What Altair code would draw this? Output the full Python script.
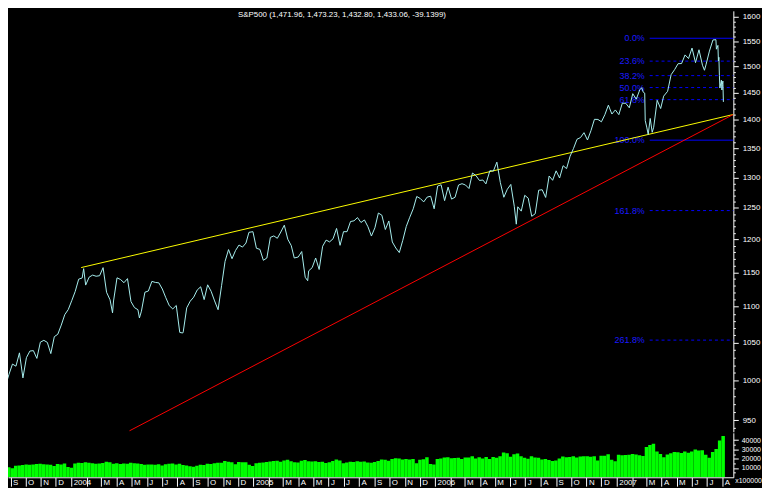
import altair as alt
import pandas as pd

title_text = "S&P500 (1,471.96, 1,473.23, 1,432.80, 1,433.06, -39.1399)"

price_dates = [
    "2003-08-11", "2003-08-15", "2003-08-22", "2003-08-29", "2003-09-05", "2003-09-12", "2003-09-19",
    "2003-09-26", "2003-10-03", "2003-10-10", "2003-10-17", "2003-10-24", "2003-10-31", "2003-11-07",
    "2003-11-14", "2003-11-21", "2003-11-28", "2003-12-05", "2003-12-12", "2003-12-19", "2003-12-26",
    "2004-01-02", "2004-01-09", "2004-01-16", "2004-01-23", "2004-01-26", "2004-01-30", "2004-02-06",
    "2004-02-13", "2004-02-20", "2004-02-27", "2004-03-05", "2004-03-12", "2004-03-19", "2004-03-24",
    "2004-03-26", "2004-04-02", "2004-04-09", "2004-04-16", "2004-04-23", "2004-04-30", "2004-05-07",
    "2004-05-14", "2004-05-17", "2004-05-21", "2004-05-28", "2004-06-04", "2004-06-11", "2004-06-18",
    "2004-06-25", "2004-07-02", "2004-07-09", "2004-07-16", "2004-07-23", "2004-07-30", "2004-08-06",
    "2004-08-12", "2004-08-13", "2004-08-20", "2004-08-27", "2004-09-03", "2004-09-10", "2004-09-17",
    "2004-09-24", "2004-10-01", "2004-10-08", "2004-10-15", "2004-10-22", "2004-10-29", "2004-11-05",
    "2004-11-12", "2004-11-19", "2004-11-26", "2004-12-03", "2004-12-10", "2004-12-17", "2004-12-23",
    "2004-12-31", "2005-01-07", "2005-01-14", "2005-01-21", "2005-01-28", "2005-02-04", "2005-02-11",
    "2005-02-18", "2005-02-25", "2005-03-04", "2005-03-11", "2005-03-18", "2005-03-24", "2005-04-01",
    "2005-04-08", "2005-04-15", "2005-04-20", "2005-04-22", "2005-04-29", "2005-05-06", "2005-05-13",
    "2005-05-20", "2005-05-27", "2005-06-03", "2005-06-10", "2005-06-17", "2005-06-24", "2005-07-01",
    "2005-07-08", "2005-07-15", "2005-07-22", "2005-07-29", "2005-08-05", "2005-08-12", "2005-08-19",
    "2005-08-26", "2005-09-02", "2005-09-09", "2005-09-16", "2005-09-23", "2005-09-30", "2005-10-07",
    "2005-10-14", "2005-10-21", "2005-10-28", "2005-11-04", "2005-11-11", "2005-11-18", "2005-11-25",
    "2005-12-02", "2005-12-09", "2005-12-16", "2005-12-23", "2005-12-30", "2006-01-06", "2006-01-13",
    "2006-01-20", "2006-01-27", "2006-02-03", "2006-02-10", "2006-02-17", "2006-02-24", "2006-03-03",
    "2006-03-10", "2006-03-17", "2006-03-24", "2006-03-31", "2006-04-07", "2006-04-13", "2006-04-21",
    "2006-04-28", "2006-05-05", "2006-05-12", "2006-05-19", "2006-05-26", "2006-06-02", "2006-06-09",
    "2006-06-13", "2006-06-16", "2006-06-23", "2006-06-30", "2006-07-07", "2006-07-14", "2006-07-21",
    "2006-07-28", "2006-08-04", "2006-08-11", "2006-08-18", "2006-08-25", "2006-09-01", "2006-09-08",
    "2006-09-15", "2006-09-22", "2006-09-29", "2006-10-06", "2006-10-13", "2006-10-20", "2006-10-27",
    "2006-11-03", "2006-11-10", "2006-11-17", "2006-11-24", "2006-12-01", "2006-12-08", "2006-12-15",
    "2006-12-22", "2006-12-29", "2007-01-05", "2007-01-12", "2007-01-19", "2007-01-26", "2007-02-02",
    "2007-02-09", "2007-02-16", "2007-02-20", "2007-02-23", "2007-02-26", "2007-02-27", "2007-03-02",
    "2007-03-05", "2007-03-09", "2007-03-13", "2007-03-16", "2007-03-23", "2007-03-30", "2007-04-05",
    "2007-04-13", "2007-04-20", "2007-04-27", "2007-05-04", "2007-05-11", "2007-05-18", "2007-05-25",
    "2007-06-01", "2007-06-08", "2007-06-15", "2007-06-22", "2007-06-26", "2007-06-29", "2007-07-06",
    "2007-07-13", "2007-07-19", "2007-07-20", "2007-07-23", "2007-07-24", "2007-07-25", "2007-07-26",
    "2007-07-27", "2007-07-30", "2007-07-31", "2007-08-01", "2007-08-02", "2007-08-03",
]

price_close = [
    980.6, 990.7, 993.1, 1008.0, 1021.4, 1018.6, 1036.3,
    1003.3, 1029.9, 1038.7, 1039.3, 1028.9, 1050.7, 1053.2,
    1050.4, 1035.3, 1058.2, 1061.5, 1074.1, 1088.7, 1095.9,
    1108.5, 1121.9, 1139.8, 1141.6, 1155.4, 1131.1, 1142.8,
    1145.8, 1144.1, 1144.9, 1156.9, 1120.6, 1109.8, 1091.3,
    1108.1, 1141.8, 1139.3, 1134.6, 1140.6, 1107.3, 1098.7,
    1095.7, 1084.1, 1093.6, 1120.7, 1122.5, 1136.5, 1135.0,
    1134.4, 1125.4, 1112.8, 1101.4, 1096.8, 1101.7, 1064.0,
    1063.2, 1064.8, 1098.4, 1107.8, 1113.6, 1123.9, 1128.6,
    1110.1, 1131.5, 1122.1, 1108.2, 1095.7, 1130.2, 1166.2,
    1184.2, 1170.3, 1182.7, 1191.2, 1188.0, 1194.2, 1210.9,
    1211.9, 1186.2, 1184.5, 1167.9, 1171.4, 1203.0, 1205.3,
    1201.6, 1211.4, 1222.1, 1200.1, 1190.2, 1171.4, 1172.9,
    1181.2, 1142.6, 1137.5, 1152.1, 1156.9, 1171.4, 1154.1,
    1189.3, 1198.8, 1196.0, 1200.9, 1217.0, 1190.7, 1211.9,
    1211.9, 1227.9, 1229.0, 1234.2, 1226.4, 1230.4, 1219.7,
    1205.1, 1218.0, 1241.5, 1237.9, 1215.3, 1228.8, 1195.9,
    1186.6, 1179.6, 1198.4, 1220.1, 1234.7, 1248.3, 1268.3,
    1265.1, 1259.4, 1267.3, 1268.7, 1248.3, 1285.5, 1287.6,
    1261.5, 1283.7, 1264.0, 1267.0, 1287.2, 1289.4, 1287.2,
    1281.4, 1307.3, 1302.9, 1294.8, 1295.5, 1289.1, 1311.3,
    1310.6, 1325.8, 1291.2, 1267.0, 1280.2, 1288.2, 1252.3,
    1223.7, 1251.5, 1244.5, 1270.2, 1265.5, 1236.2, 1240.3,
    1278.6, 1279.4, 1266.7, 1302.3, 1295.1, 1311.0, 1298.9,
    1319.7, 1314.8, 1335.9, 1349.6, 1365.6, 1368.6, 1377.3,
    1364.3, 1380.9, 1401.2, 1401.0, 1396.7, 1409.8, 1427.1,
    1410.8, 1418.3, 1409.7, 1430.7, 1430.5, 1422.2, 1448.4,
    1438.1, 1455.5, 1459.7, 1451.2, 1449.4, 1399.0, 1387.2,
    1374.1, 1402.8, 1377.9, 1387.0, 1436.1, 1420.9, 1443.8,
    1452.9, 1484.4, 1494.1, 1505.6, 1505.9, 1522.8, 1515.7,
    1536.3, 1507.7, 1532.9, 1502.6, 1492.9, 1503.4, 1530.4,
    1552.5, 1553.1, 1534.1, 1541.6, 1511.0, 1518.1, 1482.7,
    1459.0, 1473.9, 1455.3, 1465.8, 1472.2, 1433.1,
]

# weekly volume (units of 100000 shares), weeks starting Monday 2003-08-11
volume_first_week = "2003-08-11"
volume = [
    10500, 10200, 10800, 9800, 12400, 12800, 13200, 13800, 13400, 13900, 14200, 14600, 14100,
    13800, 13600, 12200, 14400, 13800, 14800, 11200, 10400, 14900, 15600, 15300, 16200, 15800,
    15100, 14700, 14900, 15300, 16800, 16200, 14600, 15200, 14300, 14900, 14500, 15600, 15200,
    15000, 14200, 13400, 13900, 13800, 13600, 14100, 12800, 14000, 14600, 14800, 13900, 14500,
    13200, 12600, 11800, 11300, 12500, 13400, 13300, 14600, 14200, 15100, 15600, 15800, 17600,
    16800, 16200, 14000, 16600, 16100, 16300, 13600, 12200, 15100, 15600, 16000, 16400, 17000,
    17600, 17900, 16800, 18200, 18800, 17400, 16200, 15900, 17800, 18600, 17200, 16900, 17300,
    16400, 16800, 15300, 16100, 17600, 19100, 18000, 15200, 15900, 16700, 16600, 17400, 16800,
    16900, 15900, 15800, 16600, 17600, 19100, 18900, 17800, 19700, 20600, 20200, 19300, 19800,
    19200, 19600, 15100, 18900, 19500, 21700, 14200, 13800, 19800, 20200, 21300, 21500, 20600,
    20800, 21100, 19600, 21400, 21300, 22600, 20200, 21700, 20200, 21800, 19800, 21900, 21200,
    22600, 26700, 25800, 22100, 24900, 25600, 22600, 21200, 20100, 22800, 21400, 21100, 19200,
    19600, 18600, 17700, 18100, 20200, 22300, 21500, 21900, 22600, 21400, 22300, 22600, 22600,
    22100, 22700, 18200, 23300, 23200, 24800, 18900, 17200, 24300, 23900, 24000, 24300, 25100,
    24600, 23900, 23000, 32600, 34800, 36100, 27800, 25100, 21500, 24700, 25900, 27300, 27100,
    26200, 27700, 26600, 27800, 29900, 28900, 29100, 24300, 21200, 27200, 30500, 39800, 44500,
]

fib_labels = ["0.0%", "23.6%", "38.2%", "50.0%", "61.8%", "100.0%", "161.8%", "261.8%"]
fib_values = [1555.9, 1510.6, 1482.6, 1459.9, 1437.3, 1364.0, 1245.4, 1053.5]
fib_solid = [True, False, False, False, False, True, False, False]
fib_line_start = "2007-03-08"
fib_label_end = "2007-02-26"

yellow_dates = ["2004-01-21", "2007-08-23"]
yellow_values = [1157, 1410]
red_dates = ["2004-04-27", "2007-08-23"]
red_values = [937, 1410]

price_ticks = list(range(940, 1601, 10))
volume_ticks = list(range(5000, 40001, 5000))

# ---------------------------------------------------------------- layout
W, HP, HV = 734, 426, 45
X_END = pd.Timestamp("2007-08-23")
x_domain = [alt.DateTime(year=2003, month=8, date=27), alt.DateTime(year=2007, month=8, date=23)]
x_scale = alt.Scale(domain=x_domain)
y_price_scale = alt.Scale(type="log", domain=[935.8, 1612], nice=False, zero=False)

FONT = "Liberation Sans"
NARROW = "Liberation Sans Narrow, Liberation Sans"

price_df = pd.DataFrame({"date": pd.to_datetime(price_dates), "close": price_close})
vol_dates = pd.date_range(volume_first_week, periods=len(volume), freq="7D")
vol_df = pd.DataFrame({"date": vol_dates, "date2": vol_dates + pd.Timedelta(days=7), "volume": volume})
fib_df = pd.DataFrame({
    "label": fib_labels, "value": fib_values, "solid": fib_solid,
    "x1": pd.Timestamp(fib_line_start), "x2": X_END, "xl": pd.Timestamp(fib_label_end),
})
yellow_df = pd.DataFrame({"date": pd.to_datetime(yellow_dates), "value": yellow_values})
red_df = pd.DataFrame({"date": pd.to_datetime(red_dates), "value": red_values})

y_axis = alt.Axis(
    orient="right", values=price_ticks, format="d",
    labelExpr="datum.value % 50 === 0 ? datum.label : ''",
    tickSize={"condition": {"test": "datum.value % 50 === 0", "value": 5}, "value": 2},
    labelOverlap=False, labelFont=FONT, labelFontSize=8, labelColor="white",
    labelPadding=4, tickColor="white", domainColor="white", grid=False, title=None,
)

x_price = alt.X("date:T", scale=x_scale, axis=None)
base_price_y = alt.Y("value:Q", scale=y_price_scale, axis=y_axis)

fib_solid_layer = alt.Chart(fib_df[fib_df["solid"]]).mark_rule(color="#0000ff", strokeWidth=1).encode(
    x=alt.X("x1:T", scale=x_scale, axis=None), x2="x2:T",
    y=alt.Y("value:Q", scale=y_price_scale, axis=y_axis),
)
fib_dash_layer = alt.Chart(fib_df[~fib_df["solid"]]).mark_rule(
    color="#0000ff", strokeWidth=1, strokeDash=[3, 3]
).encode(
    x=alt.X("x1:T", scale=x_scale, axis=None), x2="x2:T",
    y=alt.Y("value:Q", scale=y_price_scale, axis=y_axis),
)
fib_text = alt.Chart(fib_df).mark_text(
    align="right", baseline="middle", color="#1a1aff", font=FONT, fontSize=9
).encode(
    x=alt.X("xl:T", scale=x_scale, axis=None),
    y=alt.Y("value:Q", scale=y_price_scale, axis=y_axis),
    text="label:N",
)

yellow = alt.Chart(yellow_df).mark_line(color="#ffff00", strokeWidth=1, clip=True).encode(
    x=alt.X("date:T", scale=x_scale, axis=None), y=base_price_y,
)
red = alt.Chart(red_df).mark_line(color="#ff0000", strokeWidth=1, clip=True).encode(
    x=alt.X("date:T", scale=x_scale, axis=None), y=base_price_y,
)
price = alt.Chart(price_df).mark_line(color="#a8f0f0", strokeWidth=1, clip=True).encode(
    x=x_price,
    y=alt.Y("close:Q", scale=y_price_scale, axis=y_axis),
)
title = alt.Chart(pd.DataFrame({"t": [title_text]})).mark_text(
    align="center", baseline="top", color="white", font=NARROW, fontSize=8
).encode(x=alt.value(338), y=alt.value(0), text="t:N")

price_panel = alt.layer(
    fib_solid_layer, fib_dash_layer, fib_text, yellow, red, price, title
).properties(width=W, height=HP)

month_starts = pd.date_range("2003-09-01", "2007-08-01", freq="MS")
x_axis = alt.Axis(
    values=[alt.DateTime(year=d.year, month=d.month, date=1) for d in month_starts],
    labelExpr=("month(datum.value) == 0 ? timeFormat(datum.value, '%Y') : "
               "(month(datum.value) == 1 ? '' : slice(timeFormat(datum.value, '%b'), 0, 1))"),
    tickSize=9, tickColor="white", domainColor="white", labelColor="white",
    labelAlign="left", labelBaseline="middle", labelPadding=-4, labelOffset=2,
    labelFont=NARROW, labelFontSize=8, labelOverlap=False, labelFlush=False, labelBound=False,
    grid=False, title=None,
)

vol_bars = alt.Chart(vol_df).mark_bar(color="#00ff00", strokeWidth=0, clip=True).encode(
    x=alt.X("date:T", scale=x_scale, axis=x_axis),
    x2="date2:T",
    y=alt.Y("volume:Q", scale=alt.Scale(domain=[0, 48000], nice=False),
            axis=alt.Axis(
                orient="right", values=volume_ticks, format="d",
                labelExpr="datum.value % 10000 === 0 ? datum.label : ''",
                tickSize={"condition": {"test": "datum.value % 10000 === 0", "value": 5}, "value": 2},
                labelOverlap=False, labelFont=FONT, labelFontSize=7, labelColor="white",
                labelPadding=3, tickColor="white", domainColor="white", grid=False, title=None,
            )),
    y2=alt.datum(0),
)
unit_text = alt.Chart(pd.DataFrame({"t": ["x100000"]})).mark_text(
    align="left", baseline="middle", color="white", font=NARROW, fontSize=7
).encode(x=alt.value(W + 2), y=alt.value(HV + 4), text="t:N")

volume_panel = alt.layer(vol_bars, unit_text).properties(width=W, height=HV)

chart = alt.vconcat(price_panel, volume_panel, spacing=0).properties(
    padding={"left": 0, "top": 0, "right": 0, "bottom": 0}
).configure(background="black").configure_view(stroke=None)

chart.save("out.html", embed_options={"renderer": "svg", "actions": False})
